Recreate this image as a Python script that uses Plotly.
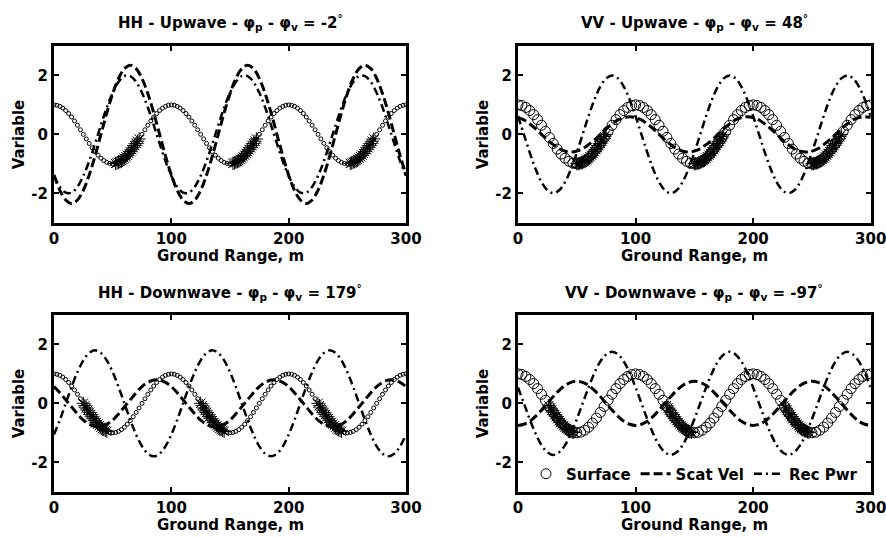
import numpy as np
import plotly.graph_objects as go

# ---------------- data ----------------
# sampling grids of ground range (m)
x_line = np.arange(0, 301, 5)            # Scat Vel / Rec Pwr samples
x_fine = np.arange(0, 300.01, 2.5)       # HH surface samples
x_coarse = np.linspace(0, 300, 91)       # VV surface samples

x_ticks = [0, 100, 200, 300]
x_tick_text = ["0", "100", "200", "300"]
y_ticks = [-2, 0, 2]
y_tick_text = ["-2", "0", "2"]

titles = [
    "HH - Upwave - φ<sub>p</sub> - φ<sub>v</sub> = -2<sup>°</sup>",
    "VV - Upwave - φ<sub>p</sub> - φ<sub>v</sub> = 48<sup>°</sup>",
    "HH - Downwave - φ<sub>p</sub> - φ<sub>v</sub> = 179<sup>°</sup>",
    "VV - Downwave - φ<sub>p</sub> - φ<sub>v</sub> = -97<sup>°</sup>",
]
legend_names = ["Surface", "Scat Vel", "Rec Pwr"]

surface_fine = [
    1.000, 0.988, 0.951, 0.891, 0.809, 0.707, 0.588, 0.454, 0.309, 0.156,
    0.000, -0.156, -0.309, -0.454, -0.588, -0.707, -0.809, -0.891, -0.951, -0.988,
    -1.000, -0.988, -0.951, -0.891, -0.809, -0.707, -0.588, -0.454, -0.309, -0.156,
    0.000, 0.156, 0.309, 0.454, 0.588, 0.707, 0.809, 0.891, 0.951, 0.988,
    1.000, 0.988, 0.951, 0.891, 0.809, 0.707, 0.588, 0.454, 0.309, 0.156,
    0.000, -0.156, -0.309, -0.454, -0.588, -0.707, -0.809, -0.891, -0.951, -0.988,
    -1.000, -0.988, -0.951, -0.891, -0.809, -0.707, -0.588, -0.454, -0.309, -0.156,
    0.000, 0.156, 0.309, 0.454, 0.588, 0.707, 0.809, 0.891, 0.951, 0.988,
    1.000, 0.988, 0.951, 0.891, 0.809, 0.707, 0.588, 0.454, 0.309, 0.156,
    0.000, -0.156, -0.309, -0.454, -0.588, -0.707, -0.809, -0.891, -0.951, -0.988,
    -1.000, -0.988, -0.951, -0.891, -0.809, -0.707, -0.588, -0.454, -0.309, -0.156,
    0.000, 0.156, 0.309, 0.454, 0.588, 0.707, 0.809, 0.891, 0.951, 0.988,
    1.000,
]

surface_coarse = [
    1.000, 0.978, 0.914, 0.809, 0.669, 0.500, 0.309, 0.105, -0.105, -0.309,
    -0.500, -0.669, -0.809, -0.914, -0.978, -1.000, -0.978, -0.914, -0.809, -0.669,
    -0.500, -0.309, -0.105, 0.105, 0.309, 0.500, 0.669, 0.809, 0.914, 0.978,
    1.000, 0.978, 0.914, 0.809, 0.669, 0.500, 0.309, 0.105, -0.105, -0.309,
    -0.500, -0.669, -0.809, -0.914, -0.978, -1.000, -0.978, -0.914, -0.809, -0.669,
    -0.500, -0.309, -0.105, 0.105, 0.309, 0.500, 0.669, 0.809, 0.914, 0.978,
    1.000, 0.978, 0.914, 0.809, 0.669, 0.500, 0.309, 0.105, -0.105, -0.309,
    -0.500, -0.669, -0.809, -0.914, -0.978, -1.000, -0.978, -0.914, -0.809, -0.669,
    -0.500, -0.309, -0.105, 0.105, 0.309, 0.500, 0.669, 0.809, 0.914, 0.978,
    1.000,
]

hh_up_scat = [
    -1.38, -1.90, -2.23, -2.35, -2.23, -1.90, -1.38, -0.73, 0.00, 0.73,
    1.38, 1.90, 2.23, 2.35, 2.23, 1.90, 1.38, 0.73, 0.00, -0.73,
    -1.38, -1.90, -2.23, -2.35, -2.23, -1.90, -1.38, -0.73, 0.00, 0.73,
    1.38, 1.90, 2.23, 2.35, 2.23, 1.90, 1.38, 0.73, 0.00, -0.73,
    -1.38, -1.90, -2.23, -2.35, -2.23, -1.90, -1.38, -0.73, 0.00, 0.73,
    1.38, 1.90, 2.23, 2.35, 2.23, 1.90, 1.38, 0.73, 0.00, -0.73,
    -1.38,
]
hh_up_pwr = [
    -1.41, -1.78, -1.98, -1.98, -1.78, -1.41, -0.91, -0.31, 0.31, 0.91,
    1.41, 1.78, 1.98, 1.98, 1.78, 1.41, 0.91, 0.31, -0.31, -0.91,
    -1.41, -1.78, -1.98, -1.98, -1.78, -1.41, -0.91, -0.31, 0.31, 0.91,
    1.41, 1.78, 1.98, 1.98, 1.78, 1.41, 0.91, 0.31, -0.31, -0.91,
    -1.41, -1.78, -1.98, -1.98, -1.78, -1.41, -0.91, -0.31, 0.31, 0.91,
    1.41, 1.78, 1.98, 1.98, 1.78, 1.41, 0.91, 0.31, -0.31, -0.91,
    -1.41,
]
vv_up_scat = [
    0.57, 0.49, 0.35, 0.19, 0.00, -0.19, -0.35, -0.49, -0.57, -0.60,
    -0.57, -0.49, -0.35, -0.19, 0.00, 0.19, 0.35, 0.49, 0.57, 0.60,
    0.57, 0.49, 0.35, 0.19, 0.00, -0.19, -0.35, -0.49, -0.57, -0.60,
    -0.57, -0.49, -0.35, -0.19, 0.00, 0.19, 0.35, 0.49, 0.57, 0.60,
    0.57, 0.49, 0.35, 0.19, 0.00, -0.19, -0.35, -0.49, -0.57, -0.60,
    -0.57, -0.49, -0.35, -0.19, 0.00, 0.19, 0.35, 0.49, 0.57, 0.60,
    0.57,
]
vv_up_pwr = [
    0.62, 0.00, -0.62, -1.18, -1.62, -1.90, -2.00, -1.90, -1.62, -1.18,
    -0.62, 0.00, 0.62, 1.18, 1.62, 1.90, 2.00, 1.90, 1.62, 1.18,
    0.62, 0.00, -0.62, -1.18, -1.62, -1.90, -2.00, -1.90, -1.62, -1.18,
    -0.62, 0.00, 0.62, 1.18, 1.62, 1.90, 2.00, 1.90, 1.62, 1.18,
    0.62, 0.00, -0.62, -1.18, -1.62, -1.90, -2.00, -1.90, -1.62, -1.18,
    -0.62, 0.00, 0.62, 1.18, 1.62, 1.90, 2.00, 1.90, 1.62, 1.18,
    0.62,
]
hh_dn_scat = [
    0.57, 0.36, 0.12, -0.12, -0.36, -0.57, -0.71, -0.79, -0.79, -0.71,
    -0.57, -0.36, -0.12, 0.12, 0.36, 0.57, 0.71, 0.79, 0.79, 0.71,
    0.57, 0.36, 0.12, -0.12, -0.36, -0.57, -0.71, -0.79, -0.79, -0.71,
    -0.57, -0.36, -0.12, 0.12, 0.36, 0.57, 0.71, 0.79, 0.79, 0.71,
    0.57, 0.36, 0.12, -0.12, -0.36, -0.57, -0.71, -0.79, -0.79, -0.71,
    -0.57, -0.36, -0.12, 0.12, 0.36, 0.57, 0.71, 0.79, 0.79, 0.71,
    0.57,
]
hh_dn_pwr = [
    -1.06, -0.56, 0.00, 0.56, 1.06, 1.46, 1.71, 1.80, 1.71, 1.46,
    1.06, 0.56, 0.00, -0.56, -1.06, -1.46, -1.71, -1.80, -1.71, -1.46,
    -1.06, -0.56, 0.00, 0.56, 1.06, 1.46, 1.71, 1.80, 1.71, 1.46,
    1.06, 0.56, 0.00, -0.56, -1.06, -1.46, -1.71, -1.80, -1.71, -1.46,
    -1.06, -0.56, 0.00, 0.56, 1.06, 1.46, 1.71, 1.80, 1.71, 1.46,
    1.06, 0.56, 0.00, -0.56, -1.06, -1.46, -1.71, -1.80, -1.71, -1.46,
    -1.06,
]
vv_dn_scat = [
    -0.75, -0.71, -0.61, -0.44, -0.23, 0.00, 0.23, 0.44, 0.61, 0.71,
    0.75, 0.71, 0.61, 0.44, 0.23, 0.00, -0.23, -0.44, -0.61, -0.71,
    -0.75, -0.71, -0.61, -0.44, -0.23, 0.00, 0.23, 0.44, 0.61, 0.71,
    0.75, 0.71, 0.61, 0.44, 0.23, 0.00, -0.23, -0.44, -0.61, -0.71,
    -0.75, -0.71, -0.61, -0.44, -0.23, 0.00, 0.23, 0.44, 0.61, 0.71,
    0.75, 0.71, 0.61, 0.44, 0.23, 0.00, -0.23, -0.44, -0.61, -0.71,
    -0.75,
]
vv_dn_pwr = [
    0.54, 0.00, -0.54, -1.03, -1.42, -1.66, -1.75, -1.66, -1.42, -1.03,
    -0.54, 0.00, 0.54, 1.03, 1.42, 1.66, 1.75, 1.66, 1.42, 1.03,
    0.54, 0.00, -0.54, -1.03, -1.42, -1.66, -1.75, -1.66, -1.42, -1.03,
    -0.54, 0.00, 0.54, 1.03, 1.42, 1.66, 1.75, 1.66, 1.42, 1.03,
    0.54, 0.00, -0.54, -1.03, -1.42, -1.66, -1.75, -1.66, -1.42, -1.03,
    -0.54, 0.00, 0.54, 1.03, 1.42, 1.66, 1.75, 1.66, 1.42, 1.03,
    0.54,
]

# star-marked surface points
hh_up_star_x = [
    52.5, 53.75, 55, 56.25, 57.5, 58.75, 60, 61.25, 62.5, 63.75, 65, 66.25, 67.5, 68.75, 70, 71.25, 72.5,
    152.5, 153.75, 155, 156.25, 157.5, 158.75, 160, 161.25, 162.5, 163.75, 165, 166.25, 167.5, 168.75, 170, 171.25, 172.5,
    252.5, 253.75, 255, 256.25, 257.5, 258.75, 260, 261.25, 262.5, 263.75, 265, 266.25, 267.5, 268.75, 270, 271.25, 272.5,
]
hh_up_star_y = [
    -0.988, -0.972, -0.951, -0.924, -0.891, -0.853, -0.809, -0.760, -0.707, -0.649, -0.588, -0.522, -0.454, -0.383, -0.309, -0.233, -0.156,
    -0.988, -0.972, -0.951, -0.924, -0.891, -0.853, -0.809, -0.760, -0.707, -0.649, -0.588, -0.522, -0.454, -0.383, -0.309, -0.233, -0.156,
    -0.988, -0.972, -0.951, -0.924, -0.891, -0.853, -0.809, -0.760, -0.707, -0.649, -0.588, -0.522, -0.454, -0.383, -0.309, -0.233, -0.156,
]
vv_up_star_x = [
    50, 51.25, 52.5, 53.75, 55, 56.25, 57.5, 58.75, 60, 61.25, 62.5, 63.75, 65, 66.25, 67.5, 68.75, 70, 71.25, 72.5, 73.75, 75,
    150, 151.25, 152.5, 153.75, 155, 156.25, 157.5, 158.75, 160, 161.25, 162.5, 163.75, 165, 166.25, 167.5, 168.75, 170, 171.25, 172.5, 173.75, 175,
    250, 251.25, 252.5, 253.75, 255, 256.25, 257.5, 258.75, 260, 261.25, 262.5, 263.75, 265, 266.25, 267.5, 268.75, 270, 271.25, 272.5, 273.75, 275,
]
vv_up_star_y = [
    -1.000, -0.997, -0.988, -0.972, -0.951, -0.924, -0.891, -0.853, -0.809, -0.760, -0.707, -0.649, -0.588, -0.522, -0.454, -0.383, -0.309, -0.233, -0.156, -0.078, 0.000,
    -1.000, -0.997, -0.988, -0.972, -0.951, -0.924, -0.891, -0.853, -0.809, -0.760, -0.707, -0.649, -0.588, -0.522, -0.454, -0.383, -0.309, -0.233, -0.156, -0.078, 0.000,
    -1.000, -0.997, -0.988, -0.972, -0.951, -0.924, -0.891, -0.853, -0.809, -0.760, -0.707, -0.649, -0.588, -0.522, -0.454, -0.383, -0.309, -0.233, -0.156, -0.078, 0.000,
]
hh_dn_star_x = [
    25, 26.25, 27.5, 28.75, 30, 31.25, 32.5, 33.75, 35, 36.25, 37.5, 38.75, 40, 41.25, 42.5, 43.75, 45,
    125, 126.25, 127.5, 128.75, 130, 131.25, 132.5, 133.75, 135, 136.25, 137.5, 138.75, 140, 141.25, 142.5, 143.75, 145,
    225, 226.25, 227.5, 228.75, 230, 231.25, 232.5, 233.75, 235, 236.25, 237.5, 238.75, 240, 241.25, 242.5, 243.75, 245,
]
hh_dn_star_y = [
    0.000, -0.078, -0.156, -0.233, -0.309, -0.383, -0.454, -0.522, -0.588, -0.649, -0.707, -0.760, -0.809, -0.853, -0.891, -0.924, -0.951,
    0.000, -0.078, -0.156, -0.233, -0.309, -0.383, -0.454, -0.522, -0.588, -0.649, -0.707, -0.760, -0.809, -0.853, -0.891, -0.924, -0.951,
    0.000, -0.078, -0.156, -0.233, -0.309, -0.383, -0.454, -0.522, -0.588, -0.649, -0.707, -0.760, -0.809, -0.853, -0.891, -0.924, -0.951,
]
vv_dn_star_x = [
    26.25, 27.5, 28.75, 30, 31.25, 32.5, 33.75, 35, 36.25, 37.5, 38.75, 40, 41.25, 42.5, 43.75, 45, 46.25, 47.5,
    126.25, 127.5, 128.75, 130, 131.25, 132.5, 133.75, 135, 136.25, 137.5, 138.75, 140, 141.25, 142.5, 143.75, 145, 146.25, 147.5,
    226.25, 227.5, 228.75, 230, 231.25, 232.5, 233.75, 235, 236.25, 237.5, 238.75, 240, 241.25, 242.5, 243.75, 245, 246.25, 247.5,
]
vv_dn_star_y = [
    -0.078, -0.156, -0.233, -0.309, -0.383, -0.454, -0.522, -0.588, -0.649, -0.707, -0.760, -0.809, -0.853, -0.891, -0.924, -0.951, -0.972, -0.988,
    -0.078, -0.156, -0.233, -0.309, -0.383, -0.454, -0.522, -0.588, -0.649, -0.707, -0.760, -0.809, -0.853, -0.891, -0.924, -0.951, -0.972, -0.988,
    -0.078, -0.156, -0.233, -0.309, -0.383, -0.454, -0.522, -0.588, -0.649, -0.707, -0.760, -0.809, -0.853, -0.891, -0.924, -0.951, -0.972, -0.988,
]

# ---------------- figure ----------------
W, H = 886, 538
FONT = "DejaVu Sans"
f15 = dict(family=FONT, size=15, color="black", weight="bold")

# panel boxes in pixels (left, right, top, bottom)
boxes = [(54, 406, 46, 222.7), (518, 870.7, 46, 222.7),
         (54, 406, 315, 491.7), (518, 870.7, 315, 491.7)]

panels = [
    dict(sx=x_fine, sy=surface_fine, ms=4, scat=hh_up_scat, pwr=hh_up_pwr,
         stx=hh_up_star_x, sty=hh_up_star_y),
    dict(sx=x_coarse, sy=surface_coarse, ms=10, scat=vv_up_scat, pwr=vv_up_pwr,
         stx=vv_up_star_x, sty=vv_up_star_y),
    dict(sx=x_fine, sy=surface_fine, ms=4, scat=hh_dn_scat, pwr=hh_dn_pwr,
         stx=hh_dn_star_x, sty=hh_dn_star_y),
    dict(sx=x_coarse, sy=surface_coarse, ms=10, scat=vv_dn_scat, pwr=vv_dn_pwr,
         stx=vv_dn_star_x, sty=vv_dn_star_y),
]

fig = go.Figure()
layout = dict(width=W, height=H, margin=dict(l=0, r=0, t=0, b=0, autoexpand=False),
              paper_bgcolor="white", plot_bgcolor="white", annotations=[])

for i, (p, box) in enumerate(zip(panels, boxes)):
    n = "" if i == 0 else str(i + 1)
    xa, ya = "x" + n, "y" + n
    legend_on = (i == 3)
    fig.add_trace(go.Scatter(
        x=p["sx"], y=p["sy"], mode="markers", xaxis=xa, yaxis=ya,
        name=legend_names[0], showlegend=legend_on,
        marker=dict(symbol="circle-open", size=p["ms"], color="black",
                    line=dict(width=1, color="black"))))
    fig.add_trace(go.Scatter(
        x=x_line, y=p["scat"], mode="lines", xaxis=xa, yaxis=ya,
        name=legend_names[1], showlegend=legend_on,
        line=dict(color="black", width=3, dash="9px,4px", shape="spline")))
    fig.add_trace(go.Scatter(
        x=x_line, y=p["pwr"], mode="lines", xaxis=xa, yaxis=ya,
        name=legend_names[2], showlegend=legend_on,
        line=dict(color="black", width=2.5, dash="8px,4px,2px,4px", shape="spline")))
    fig.add_trace(go.Scatter(
        x=p["stx"], y=p["sty"], mode="markers", xaxis=xa, yaxis=ya,
        showlegend=False, hoverinfo="skip",
        marker=dict(symbol="asterisk-open", size=11, color="black",
                    line=dict(width=1, color="black"))))

    l, r, t, b = box
    axis_common = dict(showline=True, linecolor="black", linewidth=3,
                       mirror="ticks", ticks="inside", ticklen=5, tickwidth=2,
                       tickcolor="black", showgrid=False, zeroline=False,
                       tickfont=f15, automargin=False, ticklabeloverflow="allow")
    layout["xaxis" + n] = dict(domain=[l / W, r / W], range=[0, 300],
                               tickvals=x_ticks, ticktext=x_tick_text,
                               anchor=ya, **axis_common)
    layout["yaxis" + n] = dict(domain=[1 - b / H, 1 - t / H], range=[-3, 3],
                               tickvals=y_ticks, ticktext=y_tick_text,
                               anchor=xa, **axis_common)
    cx = (l + r) / 2
    layout["annotations"].append(dict(
        text=titles[i], xref="paper", yref="paper", x=cx / W,
        y=1 - (t - 23) / H, xanchor="center", yanchor="middle",
        showarrow=False, font=f15))
    layout["annotations"].append(dict(
        text="Ground Range, m", xref="paper", yref="paper", x=cx / W,
        y=1 - (b + 33) / H, xanchor="center", yanchor="middle",
        showarrow=False, font=f15))
    layout["annotations"].append(dict(
        text="Variable", xref="paper", yref="paper", x=(l - 35) / W,
        y=1 - ((t + b) / 2) / H, xanchor="center", yanchor="middle",
        textangle=-90, showarrow=False, font=f15))

layout["legend"] = dict(orientation="h", x=526 / W, y=1 - 474 / H,
                        xanchor="left", yanchor="middle",
                        bgcolor="rgba(0,0,0,0)", font=f15,
                        itemclick=False, tracegroupgap=0)
layout["showlegend"] = True
fig.update_layout(**layout)
fig.write_html(
    "out.html",
    config={"displayModeBar": False},
    post_script="document.body.style.margin='0px';document.body.style.overflow='hidden';",
)
